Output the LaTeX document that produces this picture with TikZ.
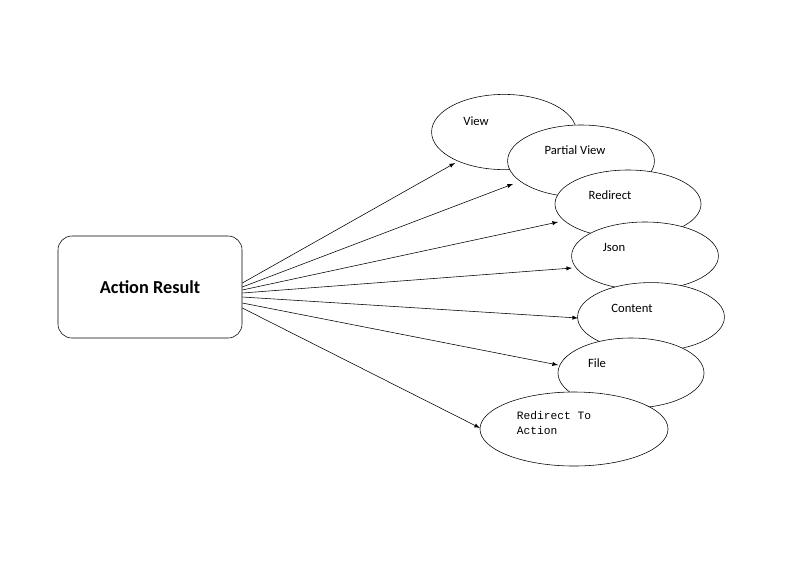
\documentclass[tikz,border=0pt]{standalone}
\usepackage{fontspec}
\setmainfont{Carlito}
\setmonofont{Liberation Mono}
\usetikzlibrary{shapes.geometric}
\tikzset{
    kind/.style={draw,ellipse,fill=white,thin},
    lbl/.style={font=\fontsize{9}{10}\selectfont},
}
\begin{document}
\begin{tikzpicture}[x=0.025cm,y=-0.025cm]
    \useasboundingbox (0,0) rectangle (800,560);
    % result box
    \node[draw,rounded corners=10pt,minimum width=4.6cm,minimum height=2.55cm,
          font=\fontsize{13}{15}\selectfont\bfseries] (Result) at (150,287) {Action Result};
    % result kinds
    \node[kind,minimum width=3.62cm,minimum height=1.88cm] (View) at (504,132) {};
    \node[kind,minimum width=3.67cm,minimum height=1.8cm] (Partial) at (581,161) {};
    \node[kind,minimum width=3.65cm,minimum height=1.7cm] (Redir) at (628,204) {};
    \node[kind,minimum width=3.67cm,minimum height=1.7cm] (Json) at (645,256) {};
    \node[kind,minimum width=3.67cm,minimum height=1.72cm] (Content) at (651,317) {};
    \node[kind,minimum width=3.65cm,minimum height=1.75cm] (File) at (631,373) {};
    \node[kind,minimum width=4.7cm,minimum height=1.85cm] (ToAction) at (574,429) {};
    % labels
    \node[lbl] at (476,121) {View};
    \node[lbl] at (575,150) {Partial View};
    \node[lbl] at (610,195) {Redirect};
    \node[lbl] at (614,247) {Json};
    \node[lbl] at (632,308) {Content};
    \node[lbl] at (597,363) {File};
    \node[lbl,font=\ttfamily\fontsize{8}{11}\selectfont,align=left,anchor=north west]
        at (512,406) {Redirect To\\Action};
    % arrow ends
    \coordinate (eView) at (455,163);
    \coordinate (ePartial) at (513,184);
    \coordinate (eRedir) at (558,222);
    \coordinate (eJson) at (572,268);
    \coordinate (eContent) at (578,318);
    \coordinate (eFile) at (558,365);
    \coordinate (eToAction) at (480,428);
    \foreach \s/\e in {283/View,287/Partial,290/Redir,293/Json,297/Content,303/File,308/ToAction}
        \draw[-latex] ([shift={(0,\s-287)}]Result.east) -- (e\e);
\end{tikzpicture}
\end{document}
